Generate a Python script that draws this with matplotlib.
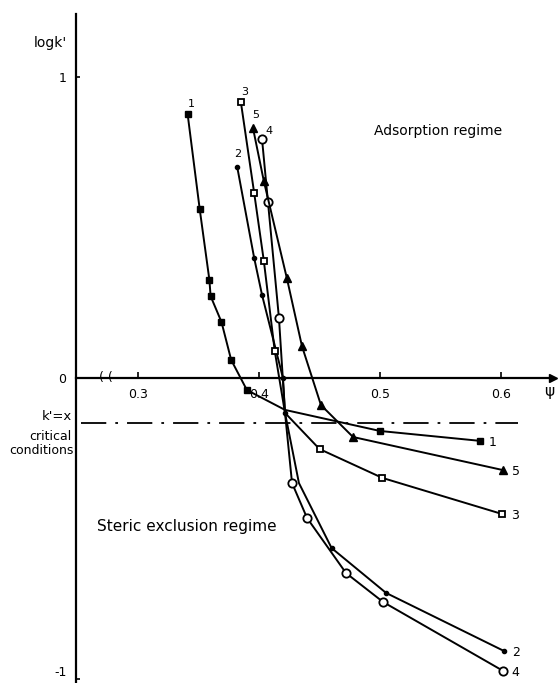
import matplotlib
matplotlib.use("Agg")
import matplotlib.pyplot as plt

# ---------------- data ----------------
phi_1 = [0.341, 0.351, 0.359, 0.360, 0.369, 0.377, 0.390, 0.4215, 0.500, 0.583]
logk_1 = [0.877, 0.561, 0.326, 0.272, 0.186, 0.060, -0.040, -0.106, -0.176, -0.209]
marks_1 = [0, 1, 2, 3, 4, 5, 6, 8, 9]

phi_2 = [0.382, 0.396, 0.4025, 0.4198, 0.4215, 0.433, 0.460, 0.505, 0.6025]
logk_2 = [0.701, 0.399, 0.276, 0.0, -0.116, -0.349, -0.565, -0.714, -0.907]
marks_2 = [0, 1, 2, 3, 4, 6, 7, 8]

phi_3 = [0.385, 0.396, 0.404, 0.413, 0.4215, 0.450, 0.502, 0.601]
logk_3 = [0.917, 0.615, 0.389, 0.090, -0.116, -0.236, -0.332, -0.452]
marks_3 = [0, 1, 2, 3, 5, 6, 7]

phi_4 = [0.4025, 0.4074, 0.4165, 0.4215, 0.4273, 0.4397, 0.4719, 0.5025, 0.6017]
logk_4 = [0.794, 0.585, 0.199, -0.116, -0.349, -0.465, -0.648, -0.744, -0.973]
marks_4 = [0, 1, 2, 4, 5, 6, 7, 8]

phi_5 = [0.395, 0.404, 0.423, 0.4355, 0.4512, 0.4777, 0.6017]
logk_5 = [0.831, 0.654, 0.332, 0.106, -0.090, -0.196, -0.306]
marks_5 = [0, 1, 2, 3, 4, 5, 6]

curve_names = ["1", "2", "3", "4", "5"]
x_ticks = [0.3, 0.4, 0.5, 0.6]
x_tick_labels = ["0.3", "0.4", "0.5", "0.6"]
y_ticks = [-1, 0, 1]
y_tick_labels = ["-1", "0", "1"]
critical_logk = -0.15

# ---------------- figure ----------------
plt.rcParams['font.family'] = ['DejaVu Sans']
fig = plt.figure(figsize=(5.6, 6.83), dpi=100)
ax = fig.add_axes([0, 0, 1, 1])
ax.set_xlim(0.18595, 0.64876)
ax.set_ylim(-1.0133, 1.2558)

for s in ['top', 'right']:
    ax.spines[s].set_visible(False)
y_axis_x = 0.2488
ax.spines['left'].set_position(('data', y_axis_x))
ax.spines['bottom'].set_position(('data', 0))
ax.spines['left'].set_bounds(-1.02, 1.21)
ax.spines['bottom'].set_bounds(y_axis_x, 0.643)
ax.spines['left'].set_linewidth(1.6)
ax.spines['bottom'].set_linewidth(1.6)
ax.plot([0.643], [0], marker='>', ms=6, color='k', clip_on=False)

ax.set_xticks(x_ticks, x_tick_labels)
ax.set_yticks(y_ticks, y_tick_labels)
ax.tick_params(axis='x', direction='in', length=4, width=1.2, pad=7, labelsize=9)
ax.tick_params(axis='y', direction='in', length=3, width=1.2, pad=7, labelsize=9)
for lab, val in zip(ax.get_yticklabels(), y_ticks):
    if val == -1:
        lab.set_va('bottom')

# axis break marks
ax.text(0.2735, 0, "( (", ha='center', va='center', fontsize=9)

# critical conditions line
ax.axhline(critical_logk, xmin=0.1446, xmax=0.925, color='k', lw=1.3,
           linestyle=(0, (14, 5, 1.5, 5)))

lw = 1.4
ax.plot(phi_1, logk_1, '-', color='k', lw=lw, marker='s', ms=4,
        mfc='k', mec='k', markevery=marks_1)
ax.plot(phi_2, logk_2, '-', color='k', lw=lw, marker='o', ms=3,
        mfc='k', mec='k', markevery=marks_2)
ax.plot(phi_3, logk_3, '-', color='k', lw=lw, marker='s', ms=5,
        mfc='white', mec='k', mew=1.3, markevery=marks_3)
ax.plot(phi_4, logk_4, '-', color='k', lw=lw, marker='o', ms=6,
        mfc='white', mec='k', mew=1.3, markevery=marks_4)
ax.plot(phi_5, logk_5, '-', color='k', lw=lw, marker='^', ms=6,
        mfc='k', mec='k', markevery=marks_5)

# curve labels at start and end
series = [(phi_1, logk_1), (phi_2, logk_2), (phi_3, logk_3), (phi_4, logk_4), (phi_5, logk_5)]
start_off = [(3, 7), (0, 9), (3, 7), (5, 6), (2, 9)]
for name, (px, py), so in zip(curve_names, series, start_off):
    ax.annotate(name, (px[0], py[0]), xytext=so, textcoords='offset points',
                ha='center', va='center', fontsize=8)
    ax.annotate(name, (px[-1], py[-1]), xytext=(9, -1), textcoords='offset points',
                ha='center', va='center', fontsize=9)

# texts
ax.text(0.2273, 1.113, "logk'", ha='center', va='center', fontsize=10)
ax.text(0.6397, -0.046, "ψ", ha='center', va='center', fontsize=11)
ax.text(0.5480, 0.82, "Adsorption regime", ha='center', va='center', fontsize=10)
ax.text(0.4149, -0.495, "Steric exclusion regime", ha='right', va='center', fontsize=11)
ax.text(0.2454, -0.127, "k'=x", ha='right', va='center', fontsize=9.5)
ax.text(0.2454, -0.196, "critical", ha='right', va='center', fontsize=9)
ax.text(0.2471, -0.242, "conditions", ha='right', va='center', fontsize=9)

fig.savefig("out.png", dpi=100)
